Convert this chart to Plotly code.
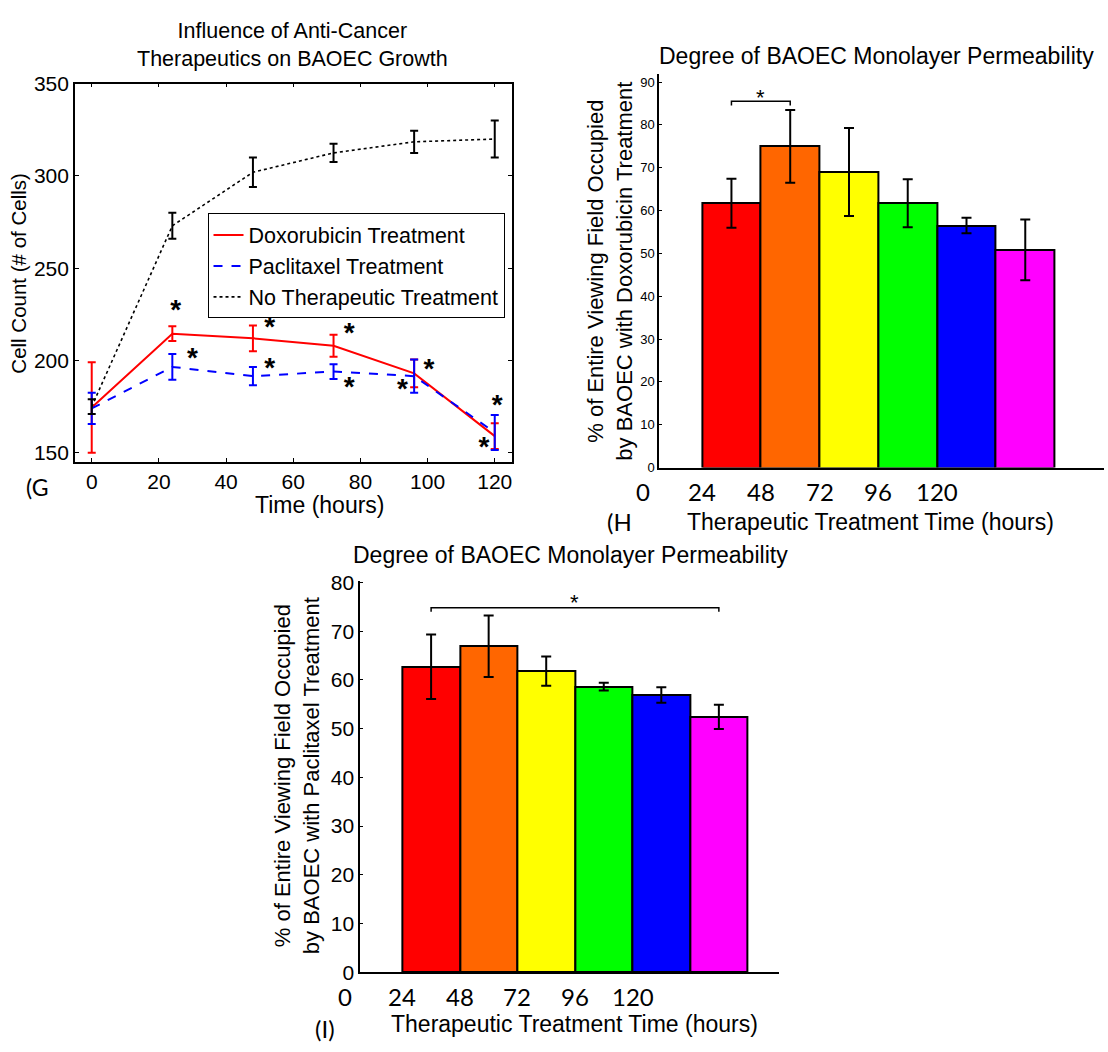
import plotly.graph_objects as go

# ---------------- data ----------------
# Panel G: cell count over time
time_hours = [0, 24, 48, 72, 96, 120]
dox_count = [174.5, 214.5, 212, 208, 193, 159]
dox_count_err = [24.5, 4, 7, 6, 7.5, 7]
pac_count = [174, 196.5, 191.5, 194, 191.5, 161]
pac_count_err = [8.5, 7, 5, 4, 9, 9.5]
ctrl_count = [175, 273, 302, 312.5, 318.5, 320]
ctrl_count_err = [4, 7, 8, 5, 6, 10]
series_names = ["Doxorubicin Treatment", "Paclitaxel Treatment", "No Therapeutic Treatment"]

# significance stars (panel G)
star_x = [25, 30, 53, 53, 76.7, 76.7, 100.4, 92.5, 120.7, 116.8]
star_y = [229, 203, 220, 198, 216.6, 187.5, 197.2, 186.6, 177.8, 154.8]

# Panels H and I: permeability bars
bar_labels = ["0", "24", "48", "72", "96", "120"]
dox_perm = [61.7, 75.0, 69.0, 61.7, 56.5, 50.8]
dox_perm_err = [5.7, 8.5, 10.3, 5.6, 1.8, 7.1]
pac_perm = [62.7, 66.9, 61.8, 58.6, 56.9, 52.4]
pac_perm_err = [6.6, 6.3, 3.0, 0.8, 1.6, 2.5]
bar_colors = ["#ff0000", "#ff6600", "#ffff00", "#00ff00", "#0000ff", "#ff00ff"]

W, H = 1108, 1052
ARIAL = "Liberation Sans, Arial, sans-serif"
CAL = "Lato, Carlito, Calibri, sans-serif"


def px(x):
    return x / W


def py(y):
    return 1 - y / H


fig = go.Figure()

# ---- Panel G lines ----
line_styles = [
    dict(color="#ff0000", width=2, dash="solid"),
    dict(color="#0000ff", width=2, dash="dash"),
    dict(color="#000000", width=1.6, dash="dot"),
]
for name, ys, es, st in zip(series_names,
                            [dox_count, pac_count, ctrl_count],
                            [dox_count_err, pac_count_err, ctrl_count_err],
                            line_styles):
    fig.add_trace(go.Scatter(
        x=time_hours, y=ys, mode="lines", name=name, line=st,
        error_y=dict(type="data", array=es, visible=True, color=st["color"],
                     thickness=2, width=4),
        xaxis="x", yaxis="y", showlegend=True,
    ))

fig.add_trace(go.Scatter(
    x=star_x, y=[v - 3 for v in star_y], mode="text", text=["*"] * len(star_x),
    textfont=dict(family=ARIAL, size=28, color="black", weight="bold"),
    xaxis="x", yaxis="y", showlegend=False, hoverinfo="skip",
))

# ---- Panel H / I bars ----
bar_idx = list(range(len(bar_labels)))
for vals, errs, xa, ya in ((dox_perm, dox_perm_err, "x2", "y2"),
                           (pac_perm, pac_perm_err, "x3", "y3")):
    fig.add_trace(go.Bar(
        x=bar_idx, y=vals, width=1,
        marker=dict(color=bar_colors, line=dict(color="black", width=2)),
        error_y=dict(type="data", array=errs, visible=True, color="black",
                     thickness=2, width=5),
        xaxis=xa, yaxis=ya, showlegend=False,
    ))

# ---------------- axes ----------------
box_axis = dict(showline=True, linecolor="black", linewidth=1.5, mirror="ticks",
                ticks="inside", ticklen=4, tickcolor="black", tickwidth=1,
                showgrid=False, zeroline=False,
                tickfont=dict(family=ARIAL, size=21, color="black"))

x2_range = [-1.226, 6.34]
x3_range = [-1.229, 6.05]

layout = dict(
    width=W, height=H, autosize=False,
    margin=dict(l=0, r=0, t=0, b=0),
    paper_bgcolor="white", plot_bgcolor="white",
    bargap=0,
    xaxis=dict(domain=[px(75), px(512)], range=[-5, 125], dtick=20,
               anchor="y", **box_axis),
    yaxis=dict(domain=[py(460), py(73.3)], range=[145, 350], dtick=50,
               anchor="x", **box_axis),
    xaxis2=dict(domain=[px(660), px(1105)], range=x2_range, anchor="y2",
                showline=True, linecolor="black", linewidth=2,
                showticklabels=False, ticks="", showgrid=False, zeroline=False),
    yaxis2=dict(domain=[py(465.7), py(63.3)], range=[0, 91.9], dtick=10,
                anchor="x2", showline=True, linecolor="black", linewidth=2,
                ticks="inside", ticklen=3, tickcolor="black",
                showgrid=False, zeroline=False,
                tickfont=dict(family=ARIAL, size=13, color="black")),
    xaxis3=dict(domain=[px(360.7), px(780)], range=x3_range, anchor="y3",
                showline=True, linecolor="black", linewidth=2,
                showticklabels=False, ticks="", showgrid=False, zeroline=False),
    yaxis3=dict(domain=[py(981.7), py(581.7)], range=[0, 80.3], dtick=10,
                anchor="x3", showline=True, linecolor="black", linewidth=2,
                ticks="inside", ticklen=3, tickcolor="black",
                showgrid=False, zeroline=False,
                tickfont=dict(family=ARIAL, size=21, color="black")),
    legend=dict(x=px(207.7), y=py(206), xanchor="left", yanchor="top",
                bgcolor="white", bordercolor="black", borderwidth=1,
                font=dict(family=ARIAL, size=21.5, color="black"),
                tracegroupgap=0),
    font=dict(family=ARIAL, color="black"),
)
fig.update_layout(**layout)

ann = []


def text(x, y, t, size, family=ARIAL, angle=0):
    ann.append(dict(x=x, y=y, xref="paper", yref="paper", text=t, showarrow=False,
                    xanchor="center", yanchor="middle", textangle=angle,
                    font=dict(family=family, size=size, color="black")))


# Panel G texts
text(px(293), py(33.5), "Influence of Anti-Cancer<br>Therapeutics on BAOEC Growth", 21.5)
text(px(320), py(504), "Time (hours)", 23)
text(px(18.5), py(267), "Cell Count (# of Cells)", 20.5, angle=-90)
text(px(37), py(486), "(G", 23, family=CAL)

# Panel H texts
text(px(877), py(45), "Degree of BAOEC Monolayer Permeability", 23)
text(px(611), py(265), "% of Entire Viewing Field Occupied<br>by BAOEC with Doxorubicin Treatment", 22, angle=-90)
text(px(871), py(521), "Therapeutic Treatment Time (hours)", 23)
text(px(620), py(521), "(H", 24, family=CAL)

# Panel I texts
text(px(571), py(555), "Degree of BAOEC Monolayer Permeability", 23)
text(px(297.5), py(781), "% of Entire Viewing Field Occupied<br>by BAOEC with Paclitaxel Treatment", 22, angle=-90)
text(px(575), py(1035), "Therapeutic Treatment Time (hours)", 23)
text(px(325), py(1039), "(I)", 24, family=CAL)

# bar-panel tick labels at interval edges (bar k spans k-0.5..k+0.5; label j at j-1.5),
# placed via the axis domain so that labels left of the axis line remain visible
for xa, rng, ypix in (("x2", x2_range, 490), ("x3", x3_range, 1006)):
    for j, lab in enumerate(bar_labels):
        frac = ((j - 1.5) - rng[0]) / (rng[1] - rng[0])
        ann.append(dict(x=frac, y=py(ypix), xref=f"{xa} domain", yref="paper", text=lab,
                        showarrow=False, xanchor="center", yanchor="middle",
                        font=dict(family=CAL, size=24, color="black")))

# significance brackets
shapes = []
for xa, ya, i0, i1, ytop, ydrop in (("x2", "y2", 0, 1, 85.5, 84.5),
                                     ("x3", "y3", 0, 5, 74.8, 74.0)):
    shapes.append(dict(type="path", xref=xa, yref=ya,
                       path=f"M {i0},{ydrop} L {i0},{ytop} L {i1},{ytop} L {i1},{ydrop}",
                       line=dict(color="black", width=1.5)))
    ann.append(dict(x=(i0 + i1) / 2, y=ytop + 1.0, xref=xa, yref=ya, text="*",
                    showarrow=False, xanchor="center", yanchor="middle",
                    font=dict(family=ARIAL, size=22, color="black")))

fig.update_layout(annotations=ann, shapes=shapes)
fig.write_html("out.html")
